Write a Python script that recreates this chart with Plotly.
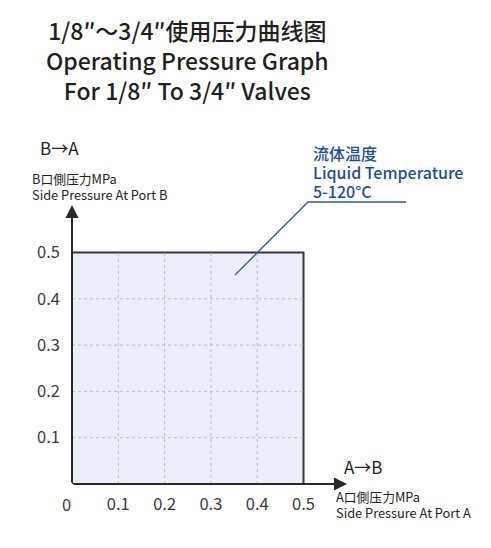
import plotly.graph_objects as go

# operating envelope (MPa)
max_a = 0.5
max_b = 0.5
grid_ticks = [0.1, 0.2, 0.3, 0.4]
tick_vals = [0.1, 0.2, 0.3, 0.4, 0.5]
tick_text = ["0.1", "0.2", "0.3", "0.4", "0.5"]

title_lines = ["1/8″～3/4″使用压力曲线图", "Operating Pressure Graph", "For 1/8″ To 3/4″ Valves"]
temp_lines = ["流体温度", "Liquid Temperature", "5-120°C"]

# page has an 8px body margin, so the figure is drawn 8px smaller
OFF = 8
W, H = 491 - OFF, 548 - OFF
L, B = 72 - OFF, 64
SCALE = 463  # pixels per MPa

FONT = "Noto Sans CJK SC"
DARK = "#231f20"
BLUE = "#1d4f91"


def paper(px, py):
    # px, py are page pixels of the reference picture
    fx, fy = px - OFF, py - OFF
    return (fx - L) / (W - L), (H - B - fy) / (H - B)


def data(px, py):
    fx, fy = px - OFF, py - OFF
    return (fx - L) / SCALE, (H - B - fy) / SCALE


fig = go.Figure()

# shaded region
fig.add_trace(go.Scatter(
    x=[0, max_a, max_a, 0, 0], y=[0, 0, max_b, max_b, 0],
    fill="toself", fillcolor="#e9eef8",
    line=dict(color="#3a3435", width=2), mode="lines",
    hoverinfo="skip", showlegend=False))

# dashed grid inside the region
for t in grid_ticks:
    fig.add_trace(go.Scatter(x=[t, t], y=[0, max_b], mode="lines",
                             line=dict(color="#bdbdc4", width=1, dash="dot"),
                             hoverinfo="skip", showlegend=False))
    fig.add_trace(go.Scatter(x=[0, max_a], y=[t, t], mode="lines",
                             line=dict(color="#bdbdc4", width=1, dash="dot"),
                             hoverinfo="skip", showlegend=False))

annotations = []

# axis arrows
xa_end = data(347, 484)
ya_end = data(72, 205)
annotations.append(dict(x=xa_end[0], y=0, ax=0, ay=0, xref="x", yref="y",
                        axref="x", ayref="y", text="", showarrow=True,
                        arrowhead=2, arrowsize=1.3, arrowwidth=2, arrowcolor="#2b2627"))
annotations.append(dict(x=0, y=ya_end[1], ax=0, ay=0, xref="x", yref="y",
                        axref="x", ayref="y", text="", showarrow=True,
                        arrowhead=2, arrowsize=1.3, arrowwidth=2, arrowcolor="#2b2627"))

# title
tx, ty = paper(187, 60)
annotations.append(dict(x=tx, y=ty, xref="paper", yref="paper", showarrow=False,
                        text="<br>".join(title_lines), align="center",
                        xanchor="center", yanchor="middle",
                        font=dict(family=FONT, size=23, color=DARK, weight=500)))


def label(px, py, text, size, color=DARK, anchor="left", weight=400):
    x, y = paper(px, py)
    annotations.append(dict(x=x, y=y, xref="paper", yref="paper", showarrow=False,
                            text=text, xanchor=anchor, yanchor="middle",
                            font=dict(family=FONT, size=size, color=color, weight=weight)))


label(38, 148, "B→A", 17)
label(30, 179, "B口側压力MPa", 12.8)
label(30, 194, "Side Pressure At Port B", 12.8)
label(342, 466, "A→B", 17)
label(334, 497, "A口側压力MPa", 12.8)
label(334, 512, "Side Pressure At Port A", 12.8)
label(66, 504, "0", 16.5, color="#3d3a3a", anchor="center")

for i, t in enumerate(temp_lines):
    label(311, 153 + 19 * i, t, 16, color=BLUE, weight=500)

# leader line for temperature note
p0, p1, p2 = data(235, 275), data(308, 202), data(406, 202)
fig.add_trace(go.Scatter(x=[p0[0], p1[0], p2[0]], y=[p0[1], p1[1], p2[1]], mode="lines",
                         line=dict(color="#2b5c9a", width=1.3),
                         hoverinfo="skip", showlegend=False, cliponaxis=False))

fig.update_layout(
    width=W, height=H,
    margin=dict(l=L, r=0, t=0, b=B),
    plot_bgcolor="white", paper_bgcolor="white",
    annotations=annotations,
    showlegend=False,
    xaxis=dict(range=[0, (W - L) / SCALE], showgrid=False, zeroline=False, showline=False,
               tickvals=tick_vals, ticktext=tick_text, ticks="", ticklabelstandoff=8,
               tickfont=dict(family=FONT, size=16.5, color="#3d3a3a"), fixedrange=True),
    yaxis=dict(range=[0, (H - B) / SCALE], showgrid=False, zeroline=False, showline=False,
               tickvals=tick_vals, ticktext=tick_text, ticks="", ticklabelstandoff=11,
               tickfont=dict(family=FONT, size=16.5, color="#3d3a3a"), fixedrange=True),
)

fig.write_html("out.html")
